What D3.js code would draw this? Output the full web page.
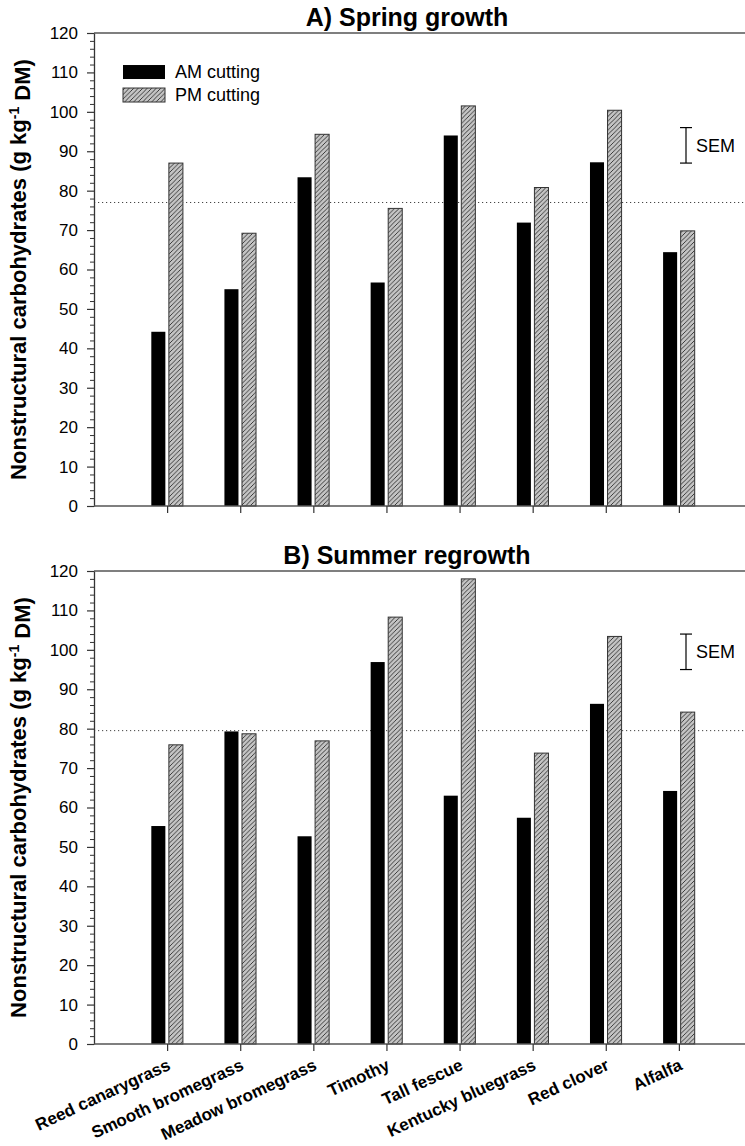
<!DOCTYPE html>
<meta charset="utf-8">
<script src="https://d3js.org/d3.v7.min.js"></script>
<style>
  body { margin: 0; background: #fff; }
  svg { display: block; font-family: "Liberation Sans", Arial, sans-serif; }
</style>
<div id="chart"></div>
<script>

// categories and values
var species = ["Reed canarygrass", "Smooth bromegrass", "Meadow bromegrass", "Timothy",
               "Tall fescue", "Kentucky bluegrass", "Red clover", "Alfalfa"];
var cuttings = ["AM cutting", "PM cutting"];

var springAM = [44.2, 55.0, 83.4, 56.7, 94.0, 71.9, 87.2, 64.4];
var springPM = [87.0, 69.2, 94.3, 75.5, 101.5, 80.8, 100.4, 69.8];
var summerAM = [55.3, 79.3, 52.7, 96.9, 63.0, 57.4, 86.3, 64.2];
var summerPM = [75.9, 78.7, 76.9, 108.3, 118.0, 73.8, 103.4, 84.2];

var yTicks = [0, 10, 20, 30, 40, 50, 60, 70, 80, 90, 100, 110, 120];
var yMinorTicks = [2, 4, 6, 8, 12, 14, 16, 18, 22, 24, 26, 28, 32, 34, 36, 38, 42, 44, 46, 48,
                   52, 54, 56, 58, 62, 64, 66, 68, 72, 74, 76, 78, 82, 84, 86, 88, 92, 94, 96, 98,
                   102, 104, 106, 108, 112, 114, 116, 118];

var springSEM = [87, 96], summerSEM = [95, 104];
var springMean = 77, summerMean = 79.5;

var width = 745, height = 1146;

var svg = d3.select("#chart").append("svg")
  .attr("width", width)
  .attr("height", height);

// hatch for PM bars
var pat = svg.append("defs").append("pattern")
  .attr("id", "hatch")
  .attr("patternUnits", "userSpaceOnUse")
  .attr("width", 4.5)
  .attr("height", 4.5);
pat.append("rect").attr("width", 4.5).attr("height", 4.5).attr("fill", "#c4c4c4");
pat.append("path")
  .attr("d", "M-1,1 l2,-2 M0,4.5 l4.5,-4.5 M3.5,5.5 l2,-2")
  .attr("stroke", "#1a1a1a")
  .attr("stroke-width", 0.8);

// x positions: categories at 1..8
var x = d3.scaleLinear().domain([0, 9]).range([94, 752]);
var xSub = d3.scaleBand().domain(cuttings).range([-15.8, 15.8]).paddingInner(0.2);

function panel(cfg) {
  var y = d3.scaleLinear().domain([0, 120]).range([cfg.bottom, cfg.top]);
  var g = svg.append("g");

  // frame top line
  g.append("line")
    .attr("x1", x(0)).attr("x2", width)
    .attr("y1", y(120)).attr("y2", y(120))
    .attr("stroke", "#000").attr("stroke-width", 1.2);

  // reference line
  g.append("line")
    .attr("x1", x(0)).attr("x2", width)
    .attr("y1", y(cfg.mean)).attr("y2", y(cfg.mean))
    .attr("stroke", "#444").attr("stroke-width", 1)
    .attr("stroke-dasharray", "1.2,2.8");

  var data = species.map(function(s, i) {
    return {name: s, i: i, am: cfg.am[i], pm: cfg.pm[i]};
  });

  g.selectAll("rect.am")
    .data(data)
    .enter().append("rect")
      .attr("class", "am")
      .attr("x", function(d) { return x(d.i + 1) + xSub("AM cutting"); })
      .attr("y", function(d) { return y(d.am); })
      .attr("width", xSub.bandwidth())
      .attr("height", function(d) { return y(0) - y(d.am); })
      .attr("fill", "#000");

  g.selectAll("rect.pm")
    .data(data)
    .enter().append("rect")
      .attr("class", "pm")
      .attr("x", function(d) { return x(d.i + 1) + xSub("PM cutting"); })
      .attr("y", function(d) { return y(d.pm); })
      .attr("width", xSub.bandwidth())
      .attr("height", function(d) { return y(0) - y(d.pm); })
      .attr("fill", "url(#hatch)")
      .attr("stroke", "#333")
      .attr("stroke-width", 1);

  // y axis
  var ya = g.append("g")
    .attr("transform", "translate(" + x(0) + ",0)")
    .call(d3.axisLeft(y).tickValues(yTicks).tickSize(7).tickPadding(9).tickSizeOuter(0));
  ya.selectAll("text").style("font-size", "17px").attr("fill", "#000");
  ya.select(".domain").attr("stroke", "#333").attr("stroke-width", 1.3);
  ya.selectAll(".tick line").attr("stroke", "#333").attr("stroke-width", 1.2);

  g.append("g")
    .attr("transform", "translate(" + x(0) + ",0)")
    .call(d3.axisLeft(y).tickValues(yMinorTicks).tickSize(4).tickFormat(""))
    .call(function(a) {
      a.select(".domain").remove();
      a.selectAll(".tick line").attr("stroke", "#333").attr("stroke-width", 1);
    });

  // x axis
  var xa = g.append("g")
    .attr("transform", "translate(0," + y(0) + ")")
    .call(d3.axisBottom(x).tickValues(d3.range(1, 9)).tickSize(7).tickSizeOuter(0)
      .tickFormat(function(d) { return cfg.labels ? species[d - 1] : ""; }));
  xa.select(".domain").attr("stroke", "#555").attr("stroke-width", 1.5)
    .attr("d", "M" + x(0) + ",0H" + width);
  xa.selectAll(".tick line").attr("stroke", "#333").attr("stroke-width", 1.2);
  xa.selectAll("text")
    .style("font-size", "17px")
    .style("font-weight", "bold")
    .attr("fill", "#000")
    .attr("text-anchor", "end")
    .attr("y", 0)
    .attr("dy", 0)
    .attr("transform", "translate(4,25) rotate(-25)");

  // title
  g.append("text")
    .attr("x", 407).attr("y", cfg.top - 7)
    .attr("text-anchor", "middle")
    .style("font-size", "25px").style("font-weight", "bold")
    .text(cfg.title);

  // y label
  var yl = g.append("text")
    .attr("transform", "translate(26," + ((cfg.top + cfg.bottom) / 2) + ") rotate(-90)")
    .attr("text-anchor", "middle")
    .style("font-size", "22px").style("font-weight", "bold");
  yl.append("tspan").text("Nonstructural carbohydrates (g kg");
  yl.append("tspan").attr("dy", "-0.5em").style("font-size", "14px").text("-1");
  yl.append("tspan").attr("dy", "0.5em").text(" DM)");

  // SEM bar
  var sx = 686;
  g.append("line").attr("x1", sx).attr("x2", sx)
    .attr("y1", y(cfg.sem[0])).attr("y2", y(cfg.sem[1]))
    .attr("stroke", "#000").attr("stroke-width", 1.2);
  cfg.sem.forEach(function(v) {
    g.append("line").attr("x1", sx - 6).attr("x2", sx + 6)
      .attr("y1", y(v)).attr("y2", y(v))
      .attr("stroke", "#000").attr("stroke-width", 1.2);
  });
  g.append("text")
    .attr("x", sx + 10).attr("y", y((cfg.sem[0] + cfg.sem[1]) / 2))
    .attr("dy", "0.35em")
    .style("font-size", "18px")
    .text("SEM");

  // legend
  if (cfg.legend) {
    var lg = g.append("g").attr("transform", "translate(123," + y(110.1) + ")");
    cuttings.forEach(function(c, k) {
      lg.append("rect")
        .attr("x", 0).attr("y", k * 23 - 7)
        .attr("width", 42).attr("height", 14)
        .attr("fill", k === 0 ? "#000" : "url(#hatch)")
        .attr("stroke", k === 0 ? "none" : "#333");
      lg.append("text")
        .attr("x", 52).attr("y", k * 23)
        .attr("dy", "0.35em")
        .style("font-size", "18px")
        .text(c);
    });
  }
}

panel({top: 33, bottom: 506, am: springAM, pm: springPM, mean: springMean,
       sem: springSEM, title: "A) Spring growth", legend: true, labels: false});
panel({top: 571, bottom: 1044, am: summerAM, pm: summerPM, mean: summerMean,
       sem: summerSEM, title: "B) Summer regrowth", legend: false, labels: true});

</script>
